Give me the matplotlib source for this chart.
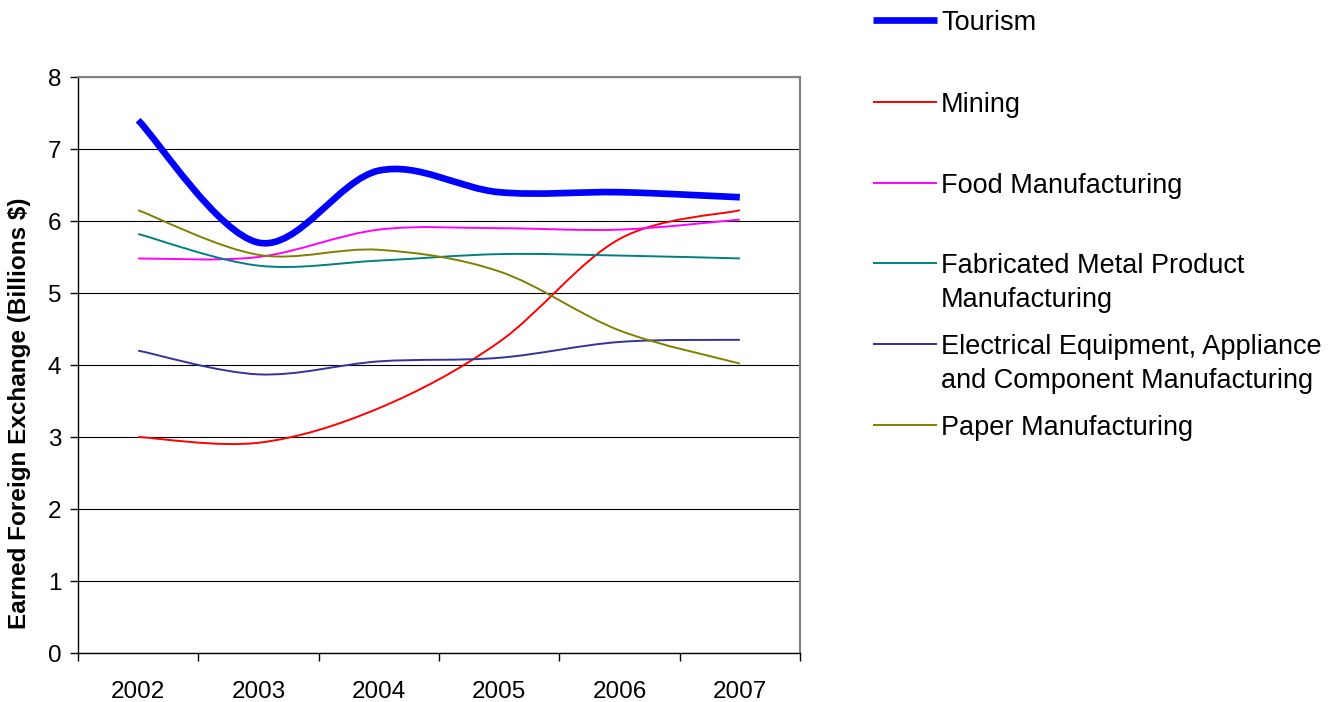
import numpy as np
import matplotlib
matplotlib.use("Agg")
import matplotlib.pyplot as plt
from matplotlib.path import Path
from matplotlib.patches import PathPatch
from matplotlib.lines import Line2D

plt.rcParams['font.family'] = ['Liberation Sans', 'DejaVu Sans']

years = ["2002", "2003", "2004", "2005", "2006", "2007"]
tourism = [7.40, 5.70, 6.70, 6.40, 6.40, 6.33]
mining = [3.00, 2.92, 3.40, 4.32, 5.75, 6.15]
food = [5.48, 5.50, 5.88, 5.90, 5.88, 6.02]
fabricated = [5.82, 5.38, 5.45, 5.54, 5.52, 5.48]
electrical = [4.20, 3.87, 4.05, 4.10, 4.32, 4.35]
paper = [6.15, 5.53, 5.60, 5.30, 4.48, 4.02]

series = [
    ("Tourism", tourism, "#0000FF", 4.8),
    ("Mining", mining, "#FF0000", 1.4),
    ("Food Manufacturing", food, "#FF00FF", 1.4),
    ("Fabricated Metal Product\nManufacturing", fabricated, "#008080", 1.4),
    ("Electrical Equipment, Appliance\nand Component Manufacturing", electrical, "#333399", 1.4),
    ("Paper Manufacturing", paper, "#808000", 1.4),
]

W, H = 1336, 702
fig = plt.figure(figsize=(W / 100, H / 100), dpi=100)
ax = fig.add_axes([78 / W, 1 - 653 / H, (800 - 78) / W, (653 - 77) / H])


def smooth_path(xs, ys):
    # Excel-style smoothed line: cubic Bezier with Catmull-Rom control points
    pts = np.column_stack([xs, ys]).astype(float)
    n = len(pts)
    verts = [pts[0]]
    codes = [Path.MOVETO]
    for i in range(n - 1):
        p0 = pts[i - 1] if i > 0 else pts[i]
        p1 = pts[i]
        p2 = pts[i + 1]
        p3 = pts[i + 2] if i + 2 < n else pts[i + 1]
        c1 = p1 + (p2 - p0) / 6.0
        c2 = p2 - (p3 - p1) / 6.0
        verts += [c1, c2, p2]
        codes += [Path.CURVE4] * 3
    return Path(verts, codes)


x = np.arange(len(years))
for i, (name, vals, col, lw) in enumerate(series):
    patch = PathPatch(smooth_path(x, vals), facecolor='none', edgecolor=col,
                      lw=lw, zorder=5 if i == 0 else 4, capstyle='butt',
                      joinstyle='round')
    ax.add_patch(patch)

ax.set_xlim(-0.5, 5.5)
ax.set_ylim(0, 8)
ax.set_yticks(range(0, 9))
ax.set_xticks(x)
ax.set_xticklabels(years)
ax.set_xticks(np.arange(-0.5, 6, 1), minor=True)
ax.tick_params(axis='x', which='major', length=0, pad=20, labelsize=17.5)
ax.tick_params(axis='x', which='minor', length=6, width=1, direction='out', color='black')
ax.tick_params(axis='y', length=6, width=1, direction='out', pad=6, labelsize=17.5)
ax.yaxis.grid(True, color='#000000', lw=0.8)
ax.set_axisbelow(True)
for s in ['top', 'right']:
    ax.spines[s].set_color('#808080')
    ax.spines[s].set_linewidth(1.5)
for s in ['left', 'bottom']:
    ax.spines[s].set_color('black')
    ax.spines[s].set_linewidth(1.0)

fig.text(20 / W, 1 - 413 / H, "Earned Foreign Exchange (Billions $)",
         fontsize=17.5, fontweight='bold', rotation=90, ha='center',
         va='center', transform=fig.transFigure)

# legend, drawn at figure positions
line_y = [20, 102, 183, 263, 344, 425]
for (name, vals, col, lw), ly in zip(series, line_y):
    yf = 1 - ly / H
    fig.add_artist(Line2D([873 / W, 937 / W], [yf, yf], color=col, lw=lw,
                          solid_capstyle='butt', transform=fig.transFigure))
    for k, part in enumerate(name.split("\n")):
        base = ly + 10 + 34 * k
        fig.text(941 / W, 1 - base / H, part, fontsize=19.5, va='baseline',
                 ha='left', transform=fig.transFigure)

fig.savefig("out.png", dpi=100)
